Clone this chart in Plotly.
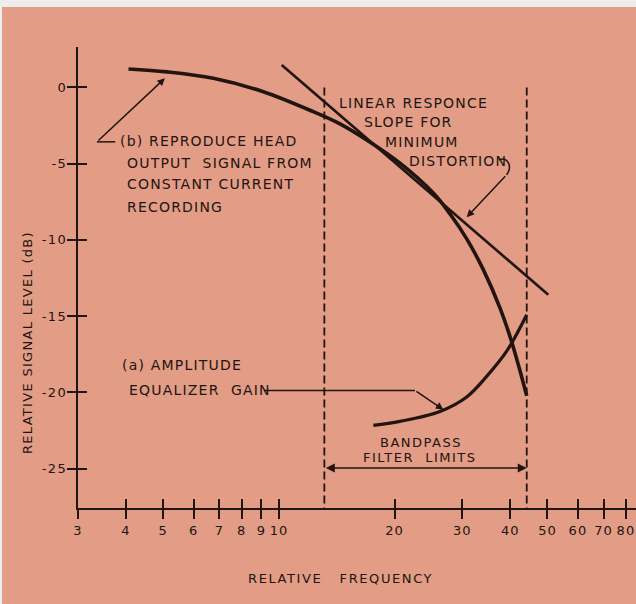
import math
import plotly.graph_objects as go

# ---------------- data ----------------
freq_ticks = [3, 4, 5, 6, 7, 8, 9, 10, 20, 30, 40, 50, 60, 70, 80]
freq_tick_text = ["3", "4", "5", "6", "7", "8", "9", "10", "20", "30", "40", "50", "60", "70", "80"]
db_ticks = [0, -5, -10, -15, -20, -25]
db_tick_text = ["0", "-5", "-10", "-15", "-20", "-25"]

# (b) reproduce head output signal from constant current recording
head_freq = [4.06, 5.11, 6.75, 9.11, 12.29, 14.42, 16.93, 20.66, 25.23, 27.89, 30.82, 34.04, 37.63, 40.36, 44.16]
head_db = [1.21, 1.02, 0.60, -0.28, -1.59, -2.39, -3.45, -4.97, -6.93, -8.30, -9.93, -11.95, -14.47, -16.69, -20.22]

# (a) amplitude equalizer gain
eq_freq = [17.61, 20.66, 26.26, 30.82, 34.74, 39.16, 44.16]
eq_db = [-22.16, -21.90, -21.25, -20.30, -18.95, -17.30, -14.91]

# linear response slope for minimum distortion
lin_freq = [10.17, 50.25]
lin_db = [1.47, -13.6]

# bandpass filter limits
band_low = 13.13
band_high = 44.16
band_top_db = 0.0

x_range = [math.log10(3), math.log10(85)]
y_range = [-27.58, 2.65]

INK = "#22150f"
BG = "#E39C86"
FONT = "DejaVu Sans"

def L(f):
    return math.log10(f)

def sp(t, ls=1.2):
    return '<span style="letter-spacing:%spx">%s</span>' % (ls, t)

fig = go.Figure()

# bandpass dashed limits
for f in (band_low, band_high):
    fig.add_trace(go.Scatter(x=[f, f], y=[band_top_db, y_range[0]], mode="lines",
                             line=dict(color=INK, width=1.8, dash="8px,4px"),
                             hoverinfo="skip", showlegend=False))

fig.add_trace(go.Scatter(x=lin_freq, y=lin_db, mode="lines",
                         line=dict(color=INK, width=2.6), showlegend=False))
fig.add_trace(go.Scatter(x=head_freq, y=head_db, mode="lines",
                         line=dict(color=INK, width=3.6, shape="spline", smoothing=1.0),
                         showlegend=False))
fig.add_trace(go.Scatter(x=eq_freq, y=eq_db, mode="lines",
                         line=dict(color=INK, width=3.2, shape="spline", smoothing=1.0),
                         showlegend=False))

# leader lines
leaders = [
    ([3.36, 3.75], [-3.57, -3.57]),
    ([9.15, 22.6], [-19.87, -19.87]),
    ([37.33, 38.54, 39.54, 39.78, 39.16], [-4.75, -4.71, -4.93, -5.36, -5.73]),
]
for lx, ly in leaders:
    fig.add_trace(go.Scatter(x=lx, y=ly, mode="lines", line=dict(color=INK, width=1.5, shape="spline"),
                             hoverinfo="skip", showlegend=False))

# invisible trace for the overlay axes (ticks crossing the axis lines)
fig.add_trace(go.Scatter(x=[3], y=[None], xaxis="x2", yaxis="y2", showlegend=False, hoverinfo="skip"))

ann = []
def txt(f, db, t, anchor="left", size=14, ls=1.2):
    ann.append(dict(x=L(f), y=db, xref="x", yref="y", text=sp(t, ls), showarrow=False,
                    xanchor=anchor, yanchor="middle",
                    font=dict(family=FONT, size=size, color=INK)))

txt(3.82, -3.49, "(b) REPRODUCE HEAD")
txt(3.98, -4.97, "OUTPUT  SIGNAL FROM")
txt(3.98, -6.32, "CONSTANT CURRENT")
txt(3.98, -7.81, "RECORDING")

txt(14.19, -1.00, "LINEAR RESPONCE")
txt(16.43, -2.28, "SLOPE FOR")
txt(18.70, -3.55, "MINIMUM")
txt(21.51, -4.82, "DISTORTION")

txt(3.86, -18.18, "(a) AMPLITUDE")
txt(4.02, -19.87, "EQUALIZER  GAIN")

txt(23.44, -23.27, "BANDPASS", anchor="center", size=13, ls=1.5)
txt(23.3, -24.25, "FILTER  LIMITS", anchor="center", size=13, ls=1.5)

def arrow(f_head, db_head, f_tail, db_tail, side="end", head=2, width=1.5, size=1.0):
    ann.append(dict(x=L(f_head), y=db_head, ax=L(f_tail), ay=db_tail,
                    xref="x", yref="y", axref="x", ayref="y", text="",
                    showarrow=True, arrowhead=head, arrowsize=size, arrowwidth=width,
                    arrowcolor=INK, arrowside=side, standoff=0, startstandoff=0))

arrow(5.05, 0.6, 3.36, -3.57)
arrow(26.8, -21.13, 22.6, -19.87)
arrow(30.82, -8.51, 39.16, -5.73)
arrow(band_high, -24.95, band_low, -24.95, side="end+start", size=1.2)

# axis titles
ann.append(dict(x=(28 - 78) / 558, y=(508 - 343) / 461, xref="paper", yref="paper",
                text=sp("RELATIVE SIGNAL LEVEL (dB)", 1.3), textangle=-90, showarrow=False,
                xanchor="center", yanchor="middle",
                font=dict(family=FONT, size=13, color=INK)))
ann.append(dict(x=(340 - 78) / 558, y=(508 - 578) / 461, xref="paper", yref="paper",
                text=sp("RELATIVE   FREQUENCY", 1.6), showarrow=False,
                xanchor="center", yanchor="middle",
                font=dict(family=FONT, size=13, color=INK)))

axis_common = dict(showgrid=False, zeroline=False, showline=True, linecolor=INK, linewidth=2,
                   ticks="outside", ticklen=9, tickwidth=1.8, tickcolor=INK,
                   tickfont=dict(family=FONT, size=13, color=INK))

fig.update_layout(
    width=636, height=604, autosize=False,
    margin=dict(l=78, r=0, t=47, b=96),
    paper_bgcolor=BG, plot_bgcolor=BG,
    showlegend=False,
    xaxis=dict(type="log", range=x_range, tickvals=freq_ticks,
               ticktext=[sp(t, 1.0) for t in freq_tick_text], **axis_common),
    yaxis=dict(range=y_range, tickvals=db_ticks, ticklabelstandoff=-3,
               ticktext=[sp(t, 1.5) for t in db_tick_text], **axis_common),
    xaxis2=dict(type="log", range=x_range, overlaying="x", anchor="y2", matches="x",
                tickvals=freq_ticks, ticks="inside", ticklen=9, tickwidth=1.8, tickcolor=INK,
                showticklabels=False, showgrid=False, zeroline=False, showline=False),
    yaxis2=dict(range=y_range, overlaying="y", anchor="x2", matches="y",
                tickvals=db_ticks, ticks="inside", ticklen=9, tickwidth=1.8, tickcolor=INK,
                showticklabels=False, showgrid=False, zeroline=False, showline=False),
    annotations=ann,
    shapes=[
        dict(type="rect", xref="paper", yref="paper", x0=-0.2, x1=1.05,
             y0=(508 - 7) / 461, y1=1.2, fillcolor="#EDEDEB", line=dict(width=0), layer="above"),
        dict(type="rect", xref="paper", yref="paper", x0=-0.2, x1=(2 - 78) / 558,
             y0=-0.3, y1=1.2, fillcolor="#EDEDEB", line=dict(width=0), layer="above"),
    ],
)

fig.write_html("out.html", config={"displayModeBar": False},
               post_script="document.body.style.margin='0';document.body.style.overflow='hidden';")
